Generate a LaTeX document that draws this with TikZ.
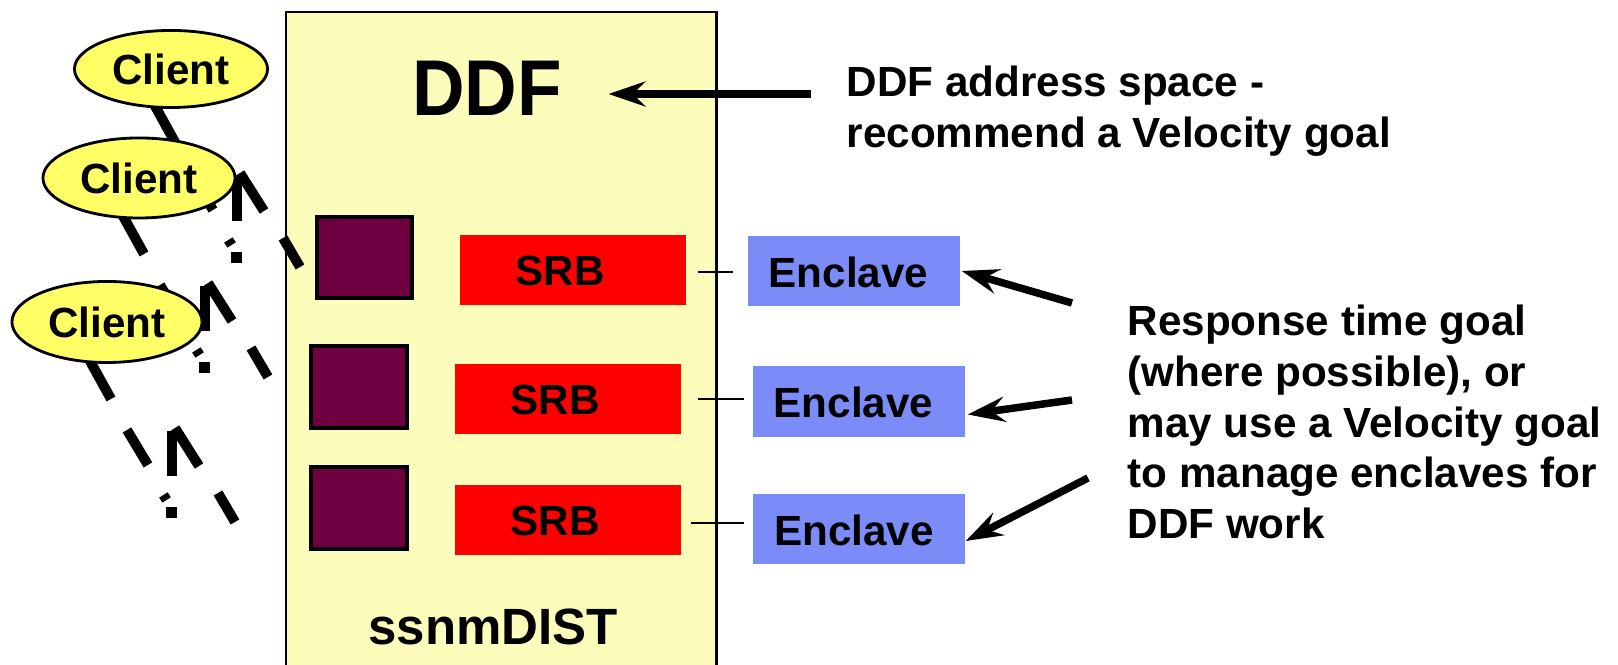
\documentclass[tikz,border=0pt]{standalone}
\usepackage{fontspec}
\usepackage{graphicx}
\setmainfont{Liberation Sans}
\usetikzlibrary{arrows.meta,calc,shapes.geometric}

\definecolor{panel}{RGB}{253,253,187}
\definecolor{clientfill}{RGB}{255,255,102}
\definecolor{queuefill}{RGB}{110,0,64}
\definecolor{srbred}{RGB}{255,0,0}
\definecolor{enclblue}{RGB}{123,139,248}

\tikzset{
  client/.style={ellipse, draw=black, line width=0.8pt, fill=clientfill, inner sep=0pt},
  sq/.style={rectangle, draw=black, line width=0.9pt, fill=queuefill, inner sep=0pt,
             minimum width=0.95cm, minimum height=0.81cm},
  srb/.style={rectangle, fill=srbred, inner sep=0pt, minimum width=2.26cm, minimum height=0.70cm},
  encl/.style={rectangle, fill=enclblue, inner sep=0pt, minimum width=2.12cm, minimum height=0.70cm},
  lbl/.style={inner sep=0pt},
  tick/.style={line width=0.8pt},
  arr/.style={line width=0.075cm, -{Stealth[length=0.37cm, width=0.25cm, inset=0.13cm]}},
  wirepiece/.style={line width=0.1cm, line cap=butt}
}

\begin{document}
\begin{tikzpicture}[x=0.01cm, y=-0.01cm, font=\bfseries\fontsize{12}{14.5}\selectfont]
\useasboundingbox (0,0) rectangle (1618,665);
\clip (0,0) rectangle (1618,665);

% DDF address space panel
\node[draw=black, line width=0.7pt, fill=panel, inner sep=0pt, anchor=north west,
      minimum width=4.30cm, minimum height=6.90cm] (ddfbox) at (285,11) {};

% broken client wires running into the panel
\foreach \px/\py in {237/177, 205/287, 172/432} {
  \begin{scope}[shift={(\px,\py)}]
    \draw[wirepiece] (-82,-71) -- (-61,-33);
    \draw[wirepiece] (-45,-2) -- (-24,33);
    \draw[wirepiece] (0,44) -- (0,-1);
    \draw[wirepiece] (3,-4) -- (27,34);
    \draw[wirepiece] (-8.6,63) -- (-5.4,68);
    \fill (-6,75) rectangle (5,86);
    \draw[wirepiece] (46,61) -- (63,90);
  \end{scope}
}

% clients
\node[client, minimum width=1.93cm, minimum height=0.77cm] (c1) at (171,69) {Client};
\node[client, minimum width=1.92cm, minimum height=0.80cm] (c2) at (139,178) {Client};
\node[client, minimum width=1.90cm, minimum height=0.81cm] (c3) at (107,322) {Client};

% queues
\node[sq] (q1) at (364.5,257.5) {};
\node[sq, minimum width=0.96cm, minimum height=0.82cm] (q2) at (359,387) {};
\node[sq, minimum width=0.96cm, minimum height=0.82cm] (q3) at (359,508) {};

% SRBs
\node[srb] (s1) at (573,270) {};
\node[srb] (s2) at (568,399) {};
\node[srb] (s3) at (568,520) {};
\node[lbl] (s1t) at (560,271) {SRB};
\node[lbl] (s2t) at (555,400) {SRB};
\node[lbl] (s3t) at (555,521) {SRB};

% enclaves
\node[encl] (e1) at (854,271) {};
\node[encl, minimum height=0.71cm] (e2) at (859,401.5) {};
\node[encl] (e3) at (859,529) {};
\node[lbl] (e1t) at (848.5,272) {Enclave};
\node[lbl] (e2t) at (853.5,402) {Enclave};
\node[lbl] (e3t) at (854,530) {Enclave};

% SRB to enclave ties
\draw[tick] ($(s1.east)+(11,2)$) -- ($(e1.west)+(-14,1)$);
\draw[tick] ($(s2.east)+(16,0)$) -- ($(e2.west)+(-8,-2.5)$);
\draw[tick] ($(s3.east)+(9,3)$) -- ($(e3.west)+(-8,-6)$);

% titles
\node[lbl, anchor=base, font=\bfseries\fontsize{22.5}{27}\selectfont] (ddf) at (487,116)
  {\scalebox{0.92}[1]{DDF}};
\node[lbl, anchor=base, font=\bfseries\fontsize{14.5}{17}\selectfont] (ssnm) at (493,645) {ssnmDIST};

% notes (anchored on the baseline of their last line)
\node[lbl, anchor=base west, align=left] (note1) at (846,148)
  {DDF address space -\\recommend a Velocity goal};
\node[lbl, anchor=base west, align=left] (note2) at (1127,539)
  {Response time goal\\(where possible), or\\may use a Velocity goal\\to manage enclaves for\\DDF work};

% pointers
\coordinate (d0) at (811,94);
\coordinate (d1) at ($(ddf.east)+(46,0)$);
\draw[arr] (d0) -- (d1 |- d0);
\coordinate (a1) at (1072,303);
\coordinate (a2) at (1072,400);
\coordinate (a3) at (1088,478);
\draw[arr] (a1) -- ($(e1.east)+(1,0)$);
\draw[arr] (a2) -- ($(e2.east)+(2,13)$);
\draw[arr] (a3) -- ($(e3.east)+(0,12)$);
\end{tikzpicture}
\end{document}
